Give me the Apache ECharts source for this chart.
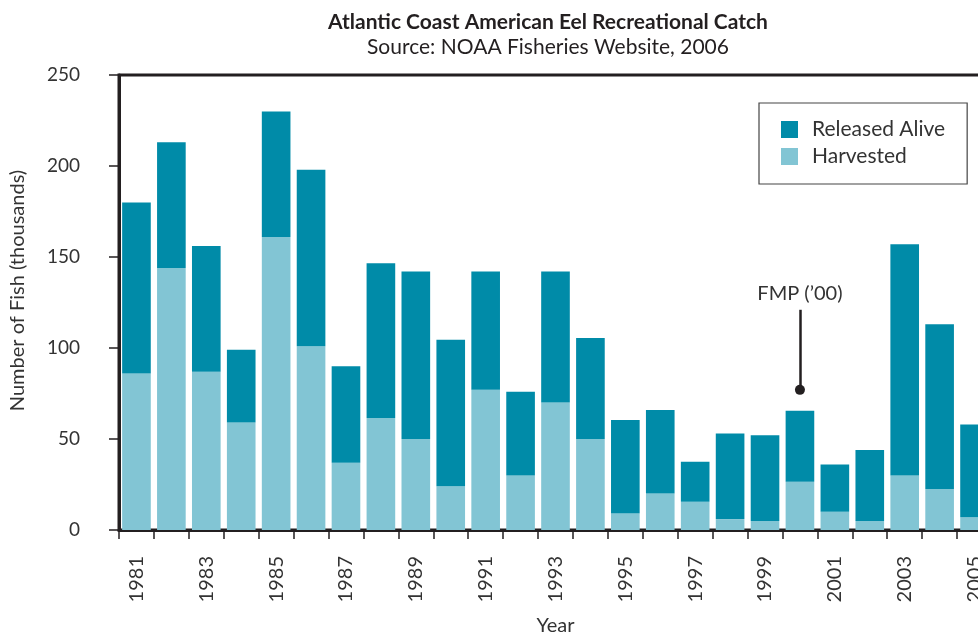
<!DOCTYPE html>
<html>
<head>
<meta charset="utf-8">
<script src="https://cdn.jsdelivr.net/npm/echarts@6/dist/echarts.min.js"></script>
<style>
  html, body { margin: 0; padding: 0; background: #fff; }
  #chart { width: 978px; height: 639px; }
</style>
</head>
<body>
<div id="chart"></div>
<script>
// years and catch, thousands of fish
const years = ['1981', '1982', '1983', '1984', '1985', '1986', '1987', '1988', '1989', '1990',
  '1991', '1992', '1993', '1994', '1995', '1996', '1997', '1998', '1999', '2000',
  '2001', '2002', '2003', '2004', '2005']
const harvested = [86, 144, 87, 59, 161, 101, 37, 61.5, 50, 24,
  77, 30, 70, 50, 9, 20, 15.5, 6, 5, 26.5,
  10, 5, 30, 22.5, 7]
const releasedAlive = [94, 69, 69, 40, 69, 97, 53, 85, 92, 80.5,
  65, 46, 72, 55.5, 51.5, 46, 22, 47, 47, 39,
  26, 39, 127, 90.5, 51]
const yTicks = { min: 0, max: 250, interval: 50 }

// FMP annotation (fishery management plan, 2000)
const fmpYear = '2000'
const fmpDot = 77
const fmpTop = 121

const ink = '#231f20'
const txt = '#333'
const font = 'Lato'

const chart = echarts.init(document.getElementById('chart'))
chart.setOption({
  animation: false,
  textStyle: { fontFamily: font },
  title: {
    text: 'Atlantic Coast American Eel Recreational Catch',
    subtext: 'Source: NOAA Fisheries Website, 2006',
    left: 543, top: 7, textAlign: 'center', itemGap: 4,
    textStyle: { fontFamily: font, fontSize: 21, fontWeight: 'bold', color: ink },
    subtextStyle: { fontFamily: font, fontSize: 21, color: ink },
  },
  legend: {
    data: ['Released Alive', 'Harvested'],
    orient: 'vertical', left: 759, top: 103,
    padding: [16, 22, 17, 22], itemGap: 6, itemWidth: 17, itemHeight: 17,
    borderColor: '#444', borderWidth: 1.2, borderRadius: 0,
    textStyle: { fontSize: 21, color: txt, padding: [0, 0, 0, 9] },
    icon: 'rect',
  },
  grid: {
    left: 119, right: -14, top: 75, bottom: 109,
    outerBoundsMode: 'none', containLabel: false,
    show: true, borderColor: ink, borderWidth: 3, backgroundColor: 'transparent',
  },
  xAxis: {
    type: 'category', data: years,
    name: 'Year', nameLocation: 'middle', nameGap: 86,
    nameTextStyle: { fontSize: 20, color: txt },
    axisLine: { lineStyle: { color: ink, width: 3 } },
    axisTick: { show: true, interval: 0, length: 9, lineStyle: { color: ink, width: 1.5 } },
    axisLabel: { interval: 1, rotate: 90, margin: 26, fontSize: 20, color: txt },
  },
  yAxis: {
    type: 'value', ...yTicks,
    name: 'Number of Fish (thousands)', nameLocation: 'middle', nameGap: 91,
    nameTextStyle: { fontSize: 20, color: txt, padding: [0, 0, 0, 24] },
    axisLine: { show: true, lineStyle: { color: ink, width: 3 } },
    axisTick: { show: true, length: 10, lineStyle: { color: ink, width: 1.5 } },
    axisLabel: { margin: 39, fontSize: 19, color: txt },
    splitLine: { show: false },
  },
  series: [
    {
      name: 'Harvested', type: 'bar', stack: 'catch', data: harvested,
      barCategoryGap: '18%', itemStyle: { color: '#82c5d4' },
    },
    {
      name: 'Released Alive', type: 'bar', stack: 'catch', data: releasedAlive,
      barCategoryGap: '18%', itemStyle: { color: '#008ba8' },
      markLine: {
        silent: true, animation: false,
        lineStyle: { color: ink, width: 2.5, type: 'solid' },
        data: [[
          { coord: [fmpYear, fmpDot], symbol: 'circle', symbolSize: 10 },
          { coord: [fmpYear, fmpTop], symbol: 'none' },
        ]],
        label: {
          show: true, position: 'end', distance: 6,
          formatter: 'FMP (\u201900)', fontFamily: font, fontSize: 20, color: txt,
        },
      },
    },
  ],
})
</script>
</body>
</html>
